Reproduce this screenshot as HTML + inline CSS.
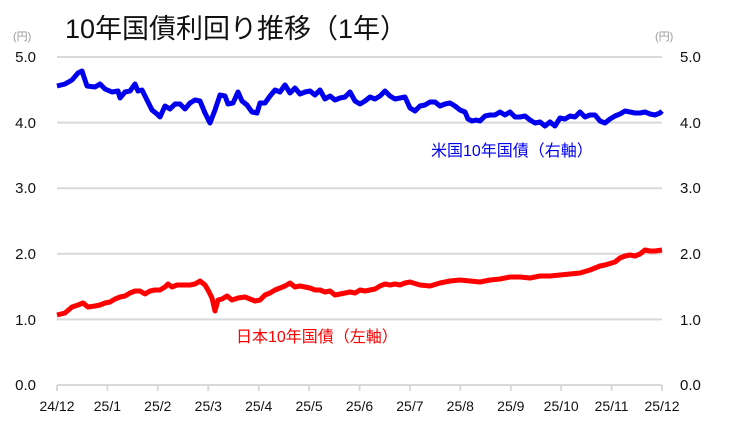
<!DOCTYPE html>
<html><head><meta charset="utf-8"><style>
body{margin:0;background:#fff;}
svg{display:block;font-family:"Liberation Sans","Noto Sans CJK JP",sans-serif;}
</style></head><body>
<svg width="729" height="433" viewBox="0 0 729 433">
<text x="65" y="38" font-size="27" fill="#111">10年国債利回り推移（1年）</text>
<text x="13" y="40" font-size="11" fill="#999">(円)</text>
<text x="655" y="40" font-size="11" fill="#999">(円)</text>
<g stroke="#d9d9d9" stroke-width="2">
<line x1="57" y1="57" x2="662" y2="57"/>
<line x1="57" y1="122.6" x2="662" y2="122.6"/>
<line x1="57" y1="188.2" x2="662" y2="188.2"/>
<line x1="57" y1="253.8" x2="662" y2="253.8"/>
<line x1="57" y1="319.4" x2="662" y2="319.4"/>
<line x1="57" y1="385" x2="662" y2="385"/>
<line x1="57" y1="385" x2="57" y2="391"/><line x1="107.4" y1="385" x2="107.4" y2="391"/><line x1="157.8" y1="385" x2="157.8" y2="391"/><line x1="208.3" y1="385" x2="208.3" y2="391"/><line x1="258.7" y1="385" x2="258.7" y2="391"/><line x1="309.1" y1="385" x2="309.1" y2="391"/><line x1="359.5" y1="385" x2="359.5" y2="391"/><line x1="409.9" y1="385" x2="409.9" y2="391"/><line x1="460.3" y1="385" x2="460.3" y2="391"/><line x1="510.8" y1="385" x2="510.8" y2="391"/><line x1="561.2" y1="385" x2="561.2" y2="391"/><line x1="611.6" y1="385" x2="611.6" y2="391"/><line x1="662" y1="385" x2="662" y2="391"/>
</g>
<g font-size="15" fill="#111">
<g text-anchor="end"><text x="36" y="62">5.0</text><text x="36" y="128">4.0</text><text x="36" y="193">3.0</text><text x="36" y="259">2.0</text><text x="36" y="325">1.0</text><text x="36" y="390">0.0</text></g>
<g text-anchor="start"><text x="680" y="62">5.0</text><text x="680" y="128">4.0</text><text x="680" y="193">3.0</text><text x="680" y="259">2.0</text><text x="680" y="325">1.0</text><text x="680" y="390">0.0</text></g>
<g text-anchor="middle" font-size="14"><text x="57" y="411">24/12</text><text x="107.4" y="411">25/1</text><text x="157.8" y="411">25/2</text><text x="208.3" y="411">25/3</text><text x="258.7" y="411">25/4</text><text x="309.1" y="411">25/5</text><text x="359.5" y="411">25/6</text><text x="409.9" y="411">25/7</text><text x="460.3" y="411">25/8</text><text x="510.8" y="411">25/9</text><text x="561.2" y="411">25/10</text><text x="611.6" y="411">25/11</text><text x="662" y="411">25/12</text></g>
</g>
<polyline fill="none" stroke="#0000ee" stroke-width="5" stroke-linejoin="round" points="57,86 65,84 72,80 78,73 82,71 87,86 95,87 100,84 105,89 112,92 118,91 120,98 125,92 130,91 135,84 138,91 142,90 147,100 152,110 157,114 160,117 165,106 170,109 175,104 180,104 185,109 190,103 195,100 200,101 205,113 210,123 215,110 220,95 225,96 228,104 233,103 238,92 242,101 247,105 252,112 257,113 260,103 265,103 270,96 275,90 280,92 285,85 290,93 295,88 300,94 305,92 310,91 315,95 320,90 325,99 330,96 335,100 340,98 345,97 350,92 355,101 360,104 365,101 370,97 375,99 380,96 385,91 390,96 395,99 400,98 405,97 410,108 415,111 420,106 425,105 430,102 435,102 440,106 445,104 450,103 455,106 460,110 465,112 468,119 472,121 476,120 480,121 485,116 490,115 495,115 500,112 505,115 510,112 515,117 520,117 525,116 530,120 535,123 540,122 545,126 550,122 555,126 560,118 565,119 570,116 575,117 580,112 585,117 590,115 595,115 600,121 605,123 610,119 615,116 620,114 625,111 630,112 635,113 640,113 645,112 650,114 655,115 660,113 662,111"/>
<polyline fill="none" stroke="#ff0000" stroke-width="5" stroke-linejoin="round" points="57,315 65,313 72,307 78,305 83,303 88,307 95,306 100,305 105,303 110,302 115,299 120,297 125,296 130,293 135,291 140,291 145,294 150,291 155,290 160,290 165,287 168,284 172,287 177,285 185,285 190,285 195,284 200,281 205,285 208,290 212,298 215,311 218,300 222,299 227,296 232,300 238,298 245,297 250,299 255,301 260,300 265,295 270,293 275,290 280,288 285,286 290,283 295,287 300,286 305,287 310,288 315,290 320,290 325,292 330,291 335,295 340,294 345,293 350,292 355,293 360,290 365,291 370,290 375,289 380,286 385,284 390,285 395,284 400,285 405,283 410,282 420,285 430,286 440,283 445,282 450,281 460,280 470,281 480,282 490,280 500,279 510,277 520,277 530,278 540,276 550,276 560,275 570,274 580,273 590,270 595,268 600,266 605,265 615,262 620,258 625,256 630,255 635,256 640,254 645,250 650,251 655,251 662,250"/>
<text x="431" y="156" font-size="16" fill="#0000ee">米国10年国債（右軸）</text>
<text x="236" y="342" font-size="16" fill="#ff0000">日本10年国債（左軸）</text>
</svg>
</body></html>
